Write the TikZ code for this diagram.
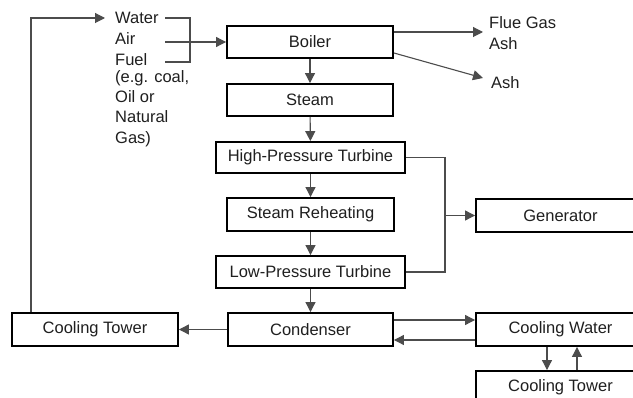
\documentclass[tikz,border=0pt]{standalone}
\usepackage{fontspec}
\setmainfont{Liberation Sans}
\usetikzlibrary{arrows.meta}
\begin{document}
\begin{tikzpicture}[x=1pt,y=-1pt,
  every node/.style={font=\fontsize{16.5}{20.3}\selectfont, text=black!88},
  box/.style={draw=black, line width=1.9pt, rectangle, inner sep=0pt, minimum height=32pt},
  lbl/.style={inner sep=0pt, anchor=west, align=left},
  conn/.style={draw=black!70, line width=1.1pt},
  arr/.style={conn, -{Triangle[length=10pt,width=10pt]}}
]
\clip (0,0) rectangle (633,398);
\fill[white] (0,0) rectangle (633,398);

% boxes
\node[box, minimum width=166pt] (boiler) at (310,42) {Boiler};
\node[box, minimum width=166pt] (steam) at (310,100) {Steam};
\node[box, minimum width=189pt, minimum height=31pt] (hpt) at (310.5,157.5) {High-Pressure Turbine};
\node[box, minimum width=167pt, minimum height=33pt] (sr) at (310.5,214.5) {Steam Reheating};
\node[box, minimum width=189pt] (lpt) at (310.5,272) {Low-Pressure Turbine};
\node[box, minimum width=169pt, minimum height=33pt] (gen) at (560.5,215.5) {Generator};
\node[box, minimum width=165pt, minimum height=33pt] (cond) at (310.5,329.5) {Condenser};
\node[box, minimum width=166pt, minimum height=33pt] (ctl) at (95,329.5) {Cooling Tower};
\node[box, minimum width=169pt, minimum height=33pt] (cw) at (560.5,329.5) {Cooling Water};
\node[box, minimum width=169pt, minimum height=33pt] (ctr) at (560.5,387.5) {Cooling Tower};

% left inputs text
\node[lbl] (water) at (115,18) {Water};
\node[lbl] (air) at (115,39) {Air};
\node[lbl] (fuel) at (115,60) {Fuel};
\node[lbl, anchor=north west] (fuelnote) at (115,70) {(e.g. coal,\\Oil or\\Natural\\Gas)};

% outputs text
\node[lbl] (flue) at (489,33) {Flue Gas\\Ash};
\node[lbl] (ash) at (491,83) {Ash};

% coordinates
\coordinate (wl) at (165,18);
\coordinate (wr) at (190,18);
\coordinate (fl) at (165,62);
\coordinate (fr) at (190,62);
\coordinate (al) at (165,42);
\coordinate (wtip) at (105,18);
\coordinate (loop) at (31,18);
\coordinate (fgtip) at (483,32);
\coordinate (ashtip) at (483,78);
\coordinate (jx) at (445,215.5);

% bracket and air
\draw[conn] (wl) -- (wr) -- (fr) -- (fl);
\draw[arr] (al) -- (boiler.west);

% main chain
\draw[arr] (boiler) -- (steam);
\draw[arr] (steam) -- (hpt);
\draw[arr] (hpt) -- (sr);
\draw[arr] (sr) -- (lpt);
\draw[arr] (lpt) -- (cond);

% turbines to generator
\draw[conn] (hpt.east) -| (jx) |- (lpt.east);
\draw[arr] (jx) -- (gen.west);

% boiler outputs
\draw[arr] ([yshift=10pt]boiler.east) -- (fgtip);
\draw[arr] ([yshift=-11pt]boiler.east) -- (ashtip);

% condenser loops
\draw[arr] (cond.west) -- (ctl.east);
\draw[arr] ([yshift=9.5pt]cond.east) -- ([yshift=9.5pt]cw.west);
\draw[arr] ([yshift=-10.5pt]cw.west) -- ([yshift=-10.5pt]cond.east);
\draw[arr] (cw.south -| 547,0) -- (ctr.north -| 547,0);
\draw[arr] (ctr.north -| 577,0) -- (cw.south -| 577,0);

% return loop
\draw[arr] (ctl.north -| loop) -- (loop) -- (wtip);
\end{tikzpicture}
\end{document}
